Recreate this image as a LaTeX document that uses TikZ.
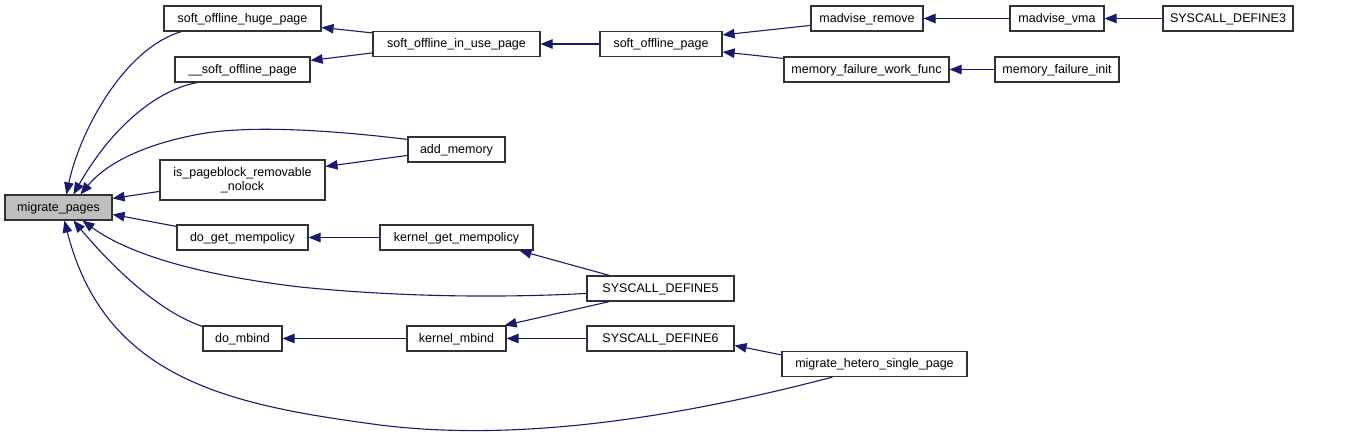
\documentclass[tikz,border=0pt]{standalone}
\usepackage{fontspec}
\setmainfont{Liberation Sans}
\usetikzlibrary{arrows.meta,calc}
\definecolor{edgeblue}{RGB}{25,25,112}
\definecolor{boxline}{RGB}{50,50,50}
\definecolor{curfill}{RGB}{191,191,191}
\begin{document}
\begin{tikzpicture}[x=1pt,y=-1pt,
  fnbase/.style={draw=boxline,line width=1.15pt,fill=white,inner sep=0pt,minimum height=25pt,anchor=center,font=\fontsize{12.5}{14}\selectfont,align=center},
  fn/.style={fnbase,text height=10pt,text depth=2.5pt},
  cur/.style={fn,fill=curfill},
  arr/.style={draw=edgeblue,line width=1.1pt,-{Triangle[length=12pt,width=9.5pt]},color=edgeblue}]
\useasboundingbox (0,0) rectangle (1349,437);
% nodes
\node[cur,minimum width=107pt] (mp) at (58.5,207.5) {migrate\_pages};
\node[fn,minimum width=157pt] (sohp) at (242.5,18.5) {soft\_offline\_huge\_page};
\node[fn,minimum width=135pt] (ssop) at (242.5,69.5) {\_\_soft\_offline\_page};
\node[fnbase,minimum width=165pt,minimum height=40pt] (ipr) at (242.5,180) {is\_pageblock\_removable\\\_nolock};
\node[fn,minimum width=131pt] (dgm) at (242.5,237.5) {do\_get\_mempolicy};
\node[fn,minimum width=79pt] (dmb) at (242.5,338.5) {do\_mbind};
\node[fn,minimum width=167pt] (soiup) at (456.5,44) {soft\_offline\_in\_use\_page};
\node[fn,minimum width=97pt] (am) at (456.5,149.5) {add\_memory};
\node[fn,minimum width=153pt] (kgm) at (456.5,237.5) {kernel\_get\_mempolicy};
\node[fn,minimum width=99pt] (km) at (456.5,338.5) {kernel\_mbind};
\node[fn,minimum width=122pt] (sop) at (661,44) {soft\_offline\_page};
\node[fn,minimum width=147pt] (sd5) at (660.5,288.5) {SYSCALL\_DEFINE5};
\node[fn,minimum width=147pt] (sd6) at (660.5,338.5) {SYSCALL\_DEFINE6};
\node[fn,minimum width=185pt] (mhsp) at (874.5,364) {migrate\_hetero\_single\_page};
\node[fn,minimum width=112pt] (mr) at (867,18.5) {madvise\_remove};
\node[fn,minimum width=165pt] (mfwf) at (866.5,69.5) {memory\_failure\_work\_func};
\node[fn,minimum width=94pt] (mv) at (1057,18.5) {madvise\_vma};
\node[fn,minimum width=124pt] (mfi) at (1057,69.5) {memory\_failure\_init};
\node[fn,minimum width=130pt] (sd3) at (1228,18.5) {SYSCALL\_DEFINE3};
% curved edges into migrate_pages
\draw[arr] ($(sohp.south west)+(18,0)$) .. controls (125,48) and (80,130) .. ($(mp.north west)+(62,0)$);
\draw[arr] ($(ssop.south west)+(23,0)$) .. controls (155,90) and (110,130) .. ($(mp.north west)+(69,0)$);
\draw[arr] ($(am.north west)+(0,3)$) .. controls (330,130) and (250,125) .. (200,134) .. controls (140,145) and (105,165) .. ($(mp.north west)+(76,0)$);
\draw[arr] ($(ipr.north west)+(0,32)$) -- ($(mp.north east)+(0,4)$);
\draw[arr] ($(dgm.north west)+(0,2)$) -- ($(mp.north east)+(0,20)$);
\draw[arr] ($(sd5.north west)+(0,18)$) .. controls (500,298) and (400,297) .. (300,287) .. controls (200,275) and (130,255) .. ($(mp.south west)+(78,0)$);
\draw[arr] ($(dmb.north west)+(0,1)$) .. controls (160,312) and (115,270) .. ($(mp.south west)+(69,0)$);
\draw[arr] ($(mhsp.south west)+(51,0)$) .. controls (650,425) and (500,440) .. (380,425) .. controls (230,405) and (105,380) .. ($(mp.south west)+(60,0)$);
% other edges
\draw[arr] ($(soiup.north west)+(0,2)$) -- ($(sohp.north east)+(0,22)$);
\draw[arr] ($(soiup.north west)+(0,22)$) -- ($(ssop.north east)+(0,4)$);
\draw[arr] ($(am.north west)+(0,19)$) -- ($(ipr.north east)+(0,7)$);
\draw[arr] (sop.west) -- (soiup.east);
\draw[arr] ($(mr.north west)+(0,20)$) -- ($(sop.north east)+(0,4)$);
\draw[arr] ($(mfwf.north west)+(0,2)$) -- ($(sop.north east)+(0,21)$);
\draw[arr] (mv.west) -- (mr.east);
\draw[arr] (sd3.west) -- (mv.east);
\draw[arr] (mfi.west) -- (mfwf.east);
\draw[arr] (kgm.west) -- (dgm.east);
\draw[arr] ($(sd5.north west)+(23,0)$) -- ($(kgm.south west)+(140,0)$);
\draw[arr] ($(sd5.south west)+(23,0)$) -- ($(km.north east)+(-2,0)$);
\draw[arr] (km.west) -- (dmb.east);
\draw[arr] (sd6.west) -- (km.east);
\draw[arr] ($(mhsp.north west)+(0,4)$) -- ($(sd6.north east)+(0,20)$);
\end{tikzpicture}
\end{document}
